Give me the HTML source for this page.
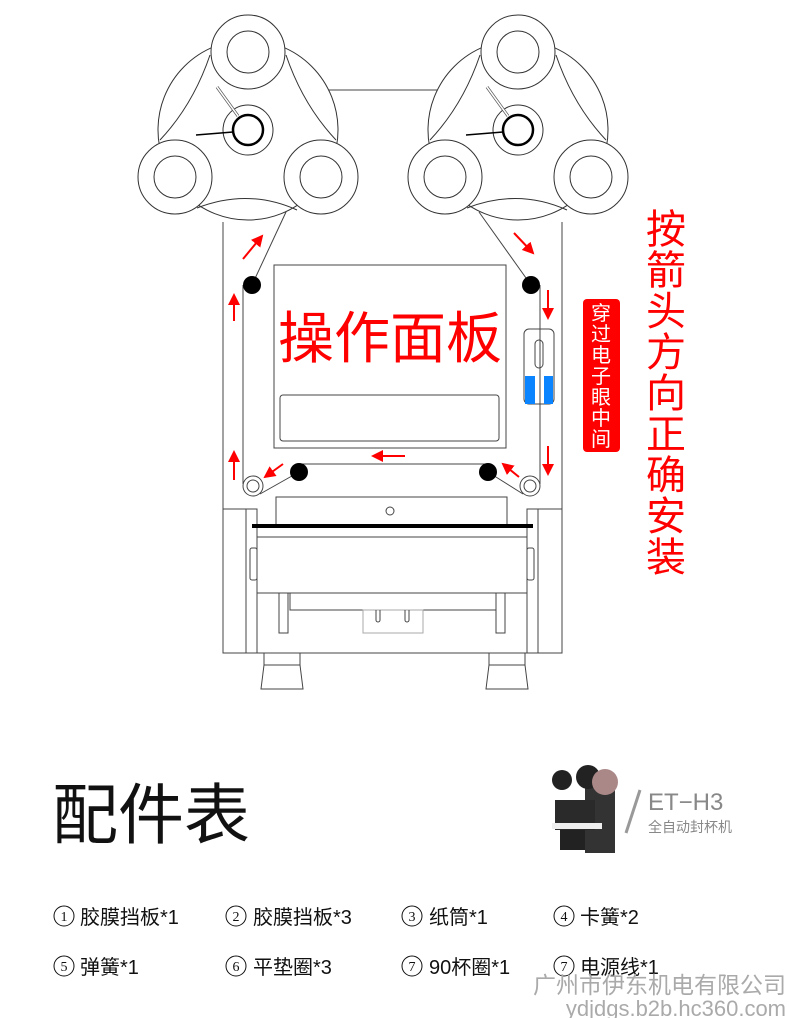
<!DOCTYPE html>
<html><head><meta charset="utf-8"><style>
body{margin:0;width:790px;height:1018px;background:#fff;overflow:hidden;font-family:"Liberation Sans","Noto Sans CJK SC",sans-serif}
svg{position:absolute;left:0;top:0}
</style></head><body>
<svg width="790" height="1018" viewBox="0 0 790 1018">
<defs>
<marker id="a" markerWidth="6" markerHeight="6" refX="5" refY="3" orient="auto" markerUnits="strokeWidth"><path d="M0,0 L6,3 L0,6z" fill="#f00"/></marker>
<g id="reel" fill="#fff" stroke="#333" stroke-width="1">
<circle cx="0" cy="0" r="90"/>
<path d="M-51,78 Q0,58 49,80" fill="none"/>
<path d="M-38,-75 Q-55,-25 -88,10" fill="none"/>
<path d="M38,-75 Q55,-25 88,10" fill="none"/>
<circle cx="0" cy="0" r="25"/>
<circle cx="0" cy="0" r="15" stroke="#000" stroke-width="2.5"/>
<line x1="-52" y1="5" x2="-15" y2="2" stroke="#000" stroke-width="1.5"/>
<line x1="-31" y1="-43" x2="-10" y2="-14" stroke="#555" stroke-width="3"/>
<line x1="-31" y1="-43" x2="-10" y2="-14" stroke="#fff" stroke-width="1.5"/>
<circle cx="0" cy="-78" r="37"/><circle cx="0" cy="-78" r="21"/>
<circle cx="-73" cy="47" r="37"/><circle cx="-73" cy="47" r="21"/>
<circle cx="73" cy="47" r="37"/><circle cx="73" cy="47" r="21"/>
</g>
</defs>
<g fill="none" stroke="#444" stroke-width="1">
<line x1="328" y1="90" x2="440" y2="90"/>
<line x1="223" y1="222" x2="223" y2="653"/>
<line x1="562" y1="222" x2="562" y2="653"/>
<rect x="274" y="265" width="232" height="183"/>
<rect x="280" y="395" width="219" height="46" rx="3"/>
<line x1="243" y1="285" x2="243" y2="484"/>
<line x1="540" y1="285" x2="540" y2="484"/>
<line x1="252" y1="285" x2="286" y2="212"/>
<line x1="531" y1="285" x2="479" y2="212"/>
<line x1="299" y1="464" x2="488" y2="464"/>
<line x1="260" y1="494" x2="299" y2="472"/>
<line x1="523" y1="494" x2="488" y2="472"/>
<rect x="524" y="329" width="30" height="75" rx="5"/>
<rect x="535" y="340" width="8" height="28" rx="4"/>
<rect x="276" y="497" width="231" height="28"/>
<circle cx="390" cy="511" r="4"/>
<rect x="223" y="509" width="34" height="144"/>
<line x1="246" y1="509" x2="246" y2="653"/>
<rect x="527" y="509" width="35" height="144"/>
<line x1="538" y1="509" x2="538" y2="653"/>
<line x1="257" y1="537" x2="527" y2="537"/>
<line x1="257" y1="593" x2="527" y2="593"/>
<line x1="223" y1="653" x2="562" y2="653"/>
<rect x="250" y="548" width="7" height="32" rx="2"/>
<rect x="527" y="548" width="7" height="32" rx="2"/>
<rect x="279" y="593" width="9" height="40"/>
<rect x="496" y="593" width="9" height="40"/>
<path d="M290,593 V610 H496 V593"/>
<rect x="363" y="610" width="60" height="23" stroke="#aaa"/>
<path d="M376,610 v10 a2,2 0 0 0 4,0 v-10 M405,610 v10 a2,2 0 0 0 4,0 v-10"/>
<path d="M264,653 h36 v12 l3,24 h-42 l3,-24z M264,665 h36"/>
<path d="M489,653 h36 v12 l3,24 h-42 l3,-24z M489,665 h36"/>
</g>
<rect x="252" y="524" width="281" height="4" fill="#000"/>
<rect x="525" y="376" width="10" height="28" fill="#0a84ff"/>
<rect x="544" y="376" width="9" height="28" fill="#0a84ff"/>
<use href="#reel" x="248" y="130"/>
<use href="#reel" x="518" y="130"/>
<g fill="#fff" stroke="#444"><circle cx="253" cy="486" r="10"/><circle cx="253" cy="486" r="6"/><circle cx="530" cy="486" r="10"/><circle cx="530" cy="486" r="6"/></g>
<g fill="#000"><circle cx="252" cy="285" r="9"/><circle cx="531" cy="285" r="9"/><circle cx="299" cy="472" r="9"/><circle cx="488" cy="472" r="9"/></g>
<g stroke="#f00" stroke-width="2" marker-end="url(#a)">
<line x1="243" y1="259" x2="262" y2="236"/>
<line x1="234" y1="321" x2="234" y2="295"/>
<line x1="234" y1="480" x2="234" y2="452"/>
<line x1="514" y1="233" x2="533" y2="253"/>
<line x1="548" y1="290" x2="548" y2="318"/>
<line x1="548" y1="446" x2="548" y2="474"/>
<line x1="405" y1="456" x2="373" y2="456"/>
<line x1="283" y1="464" x2="265" y2="477"/>
<line x1="519" y1="477" x2="503" y2="464"/>
</g>
<text x="390" y="358" font-size="56" fill="#f00" text-anchor="middle">操作面板</text>
<rect x="583" y="299" width="37" height="153" rx="4" fill="#f00"/>
<g font-size="20" fill="#fff" text-anchor="middle">
<text x="601" y="320">穿</text><text x="601" y="341">过</text><text x="601" y="362">电</text><text x="601" y="383">子</text><text x="601" y="404">眼</text><text x="601" y="425">中</text><text x="601" y="446">间</text>
</g>
<g font-size="40" fill="#f00" text-anchor="middle">
<text x="666" y="243">按</text><text x="666" y="284">箭</text><text x="666" y="325">头</text><text x="666" y="366">方</text><text x="666" y="407">向</text><text x="666" y="448">正</text><text x="666" y="489">确</text><text x="666" y="530">安</text><text x="666" y="571">装</text>
</g>
<text x="52" y="838" font-size="66" fill="#111">配件表</text>
<g transform="translate(550,765)">
<rect x="10" y="55" width="45" height="30" fill="#222"/>
<rect x="35" y="20" width="30" height="68" fill="#333"/>
<rect x="5" y="35" width="40" height="30" fill="#2a2a2a"/>
<circle cx="12" cy="15" r="10" fill="#222"/><circle cx="38" cy="12" r="12" fill="#222"/><circle cx="55" cy="17" r="13" fill="#a88"/>
<rect x="2" y="58" width="50" height="6" fill="#eee"/>
</g>
<line x1="626" y1="833" x2="640" y2="790" stroke="#999" stroke-width="3"/>
<text x="648" y="810" font-size="24" fill="#888">ET−H3</text>
<text x="648" y="832" font-size="14" fill="#888">全自动封杯机</text>
<g font-size="20" fill="#111">
<g fill="none" stroke="#111"><circle cx="64" cy="916" r="10"/><circle cx="236" cy="916" r="10"/><circle cx="412" cy="916" r="10"/><circle cx="564" cy="916" r="10"/>
<circle cx="64" cy="966" r="10"/><circle cx="236" cy="966" r="10"/><circle cx="412" cy="966" r="10"/><circle cx="564" cy="966" r="10"/></g>
<g font-size="14" font-family="Liberation Serif,serif" text-anchor="middle"><text x="64" y="921">1</text><text x="236" y="921">2</text><text x="412" y="921">3</text><text x="564" y="921">4</text><text x="64" y="971">5</text><text x="236" y="971">6</text><text x="412" y="971">7</text><text x="564" y="971">7</text></g>
<text x="80" y="924">胶膜挡板*1</text><text x="253" y="924">胶膜挡板*3</text><text x="429" y="924">纸筒*1</text><text x="580" y="924">卡簧*2</text>
<text x="80" y="974">弹簧*1</text><text x="253" y="974">平垫圈*3</text><text x="429" y="974">90杯圈*1</text><text x="580" y="974">电源线*1</text>
</g>
<text x="786" y="993" font-size="23" fill="#aaa" text-anchor="end">广州市伊东机电有限公司</text>
<text x="786" y="1016" font-size="22" fill="#aaa" text-anchor="end">ydjdgs.b2b.hc360.com</text>
</svg>
</body></html>
